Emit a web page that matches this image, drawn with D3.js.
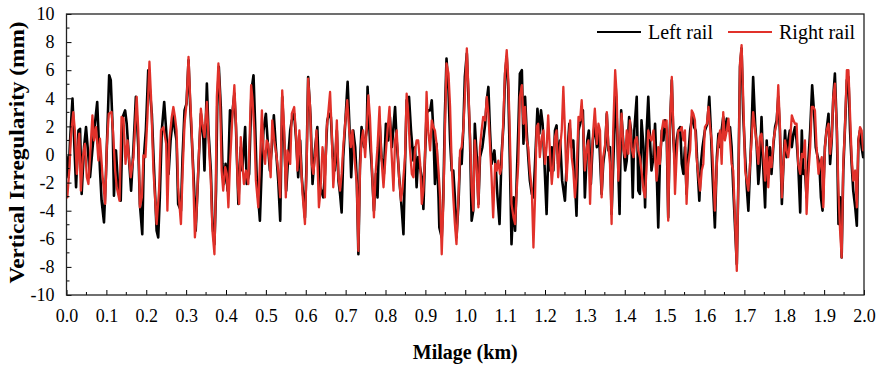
<!DOCTYPE html>
<html>
<head>
<meta charset="utf-8">
<script src="https://cdn.jsdelivr.net/npm/d3@7"></script>
<style>
  body { margin: 0; background: #fff; }
  text { font-family: "Liberation Serif", "Times New Roman", serif; fill: #000; }
</style>
</head>
<body>
<div id="chart"></div>
<script>
// Left rail (black): milage in km, irregularity in mm
const leftMilage = [
  0.000,0.005,0.009,0.015,0.024,0.030,0.034,0.038,0.044,0.049,0.055,0.059,0.067,0.077,0.084,0.088,0.094,0.099,0.107,0.111,
  0.116,0.119,0.124,0.130,0.136,0.141,0.147,0.151,0.157,0.162,0.168,0.174,0.180,0.184,0.190,0.194,0.199,0.205,0.214,0.219,
  0.226,0.230,0.234,0.239,0.245,0.250,0.256,0.261,0.268,
  0.272,0.276,0.280,0.287,0.291,0.296,0.301,0.306,0.310,0.314,0.320,0.324,0.327,0.332,0.337,0.343,0.346,0.352,0.356,0.362,
  0.366,0.371,0.375,0.378,0.382,0.387,0.391,0.395,0.399,0.404,0.410,0.414,0.421,0.425,0.431,0.437,0.441,0.448,0.452,0.458,
  0.464,0.469,0.473,0.477,0.485,0.490,0.494,0.500,0.505,0.510,0.515,0.520,0.525,0.531,0.536,0.541,0.546,0.551,0.556,
  0.561,0.565,0.571,0.576,0.581,0.586,0.590,0.594,0.598,0.602,0.606,0.612,0.617,0.623,0.629,0.634,0.644,0.648,0.654,0.659,
  0.663,0.668,0.673,0.678,0.682,0.686,0.690,0.694,0.700,0.705,0.709,0.714,0.719,0.724,0.728,0.732,0.736,0.740,0.746,0.753,
  0.755,0.761,0.765,0.771,0.776,0.780,0.785,0.790,0.796,0.801,0.807,0.811,0.816,0.824,0.828,0.835,0.841,0.845,0.849,
  0.853,0.859,0.864,0.870,0.874,0.878,0.882,0.891,0.895,0.899,0.903,0.907,0.912,0.916,0.920,0.924,0.928,0.933,0.935,0.941,
  0.945,0.949,0.953,0.958,0.962,0.966,0.970,0.974,0.978,0.983,0.987,0.991,0.995,0.999,1.004,1.008,1.012,1.016,1.020,1.024,
  1.029,1.033,1.037,1.043,1.050,1.054,1.058,1.062,1.066,1.073,1.077,1.081,1.086,1.091,1.096,1.100,1.104,1.108,1.112,1.116,
  1.121,1.125,1.129,1.133,
  1.137,1.142,1.146,1.150,1.154,1.158,1.162,1.167,1.171,1.175,1.181,1.186,1.190,1.194,1.198,1.204,1.208,1.213,1.217,1.221,
  1.225,1.229,1.233,1.238,1.243,1.250,1.254,1.261,1.267,1.271,1.275,1.279,1.284,1.288,1.295,1.300,1.306,1.310,1.315,1.320,
  1.325,1.330,1.335,1.342,1.346,1.351,1.355,1.359,1.363,1.367,1.374,1.377,1.381,1.387,1.391,1.397,1.401,1.405,1.411,1.416,
  1.420,1.424,1.430,1.434,
  1.438,1.442,1.447,1.451,1.455,1.459,1.463,1.467,1.472,1.476,1.480,1.484,1.488,1.493,1.497,1.501,1.505,1.509,1.513,1.518,
  1.522,1.526,1.530,1.534,1.539,1.543,1.547,1.551,1.555,1.559,1.564,1.570,1.574,1.578,1.582,1.587,1.591,1.595,1.601,1.607,
  1.612,1.616,1.620,1.626,1.631,1.635,1.639,1.643,1.647,1.651,1.656,1.660,1.664,1.668,1.672,1.677,1.681,1.685,1.689,1.693,
  1.697,1.702,1.706,1.710,
  1.718,1.722,1.727,1.731,1.735,1.739,1.743,1.748,1.752,1.756,1.760,1.764,1.768,1.773,1.777,1.781,1.785,1.789,1.794,1.798,
  1.802,1.806,1.810,1.814,1.819,1.823,1.827,1.831,1.835,1.840,1.844,1.848,1.852,1.856,1.860,1.865,1.870,1.875,1.879,1.884,
  1.888,1.892,1.896,1.902,1.906,1.911,1.915,1.919,1.923,1.927,1.932,1.936,1.940,1.944,1.948,1.952,1.957,1.961,1.965,1.969,
  1.973,1.978,1.982,1.986,1.990,1.994,1.998,2.000
];
const leftValues = [
  -0.1,-1.62,1.0,3.98,-2.33,1.71,1.83,-2.81,0.52,1.95,-0.19,-1.62,1.0,3.74,-1.14,-3.29,-4.83,-1.38,5.64,5.29,
  1.71,-2.93,0.29,-2.57,-3.29,2.67,3.14,2.19,-0.43,-2.57,0.52,4.1,0.52,-3.52,-5.67,-0.19,1.71,6.0,2.9,-0.67,
  -5.43,-5.9,-3.05,1.71,3.74,1.71,-1.38,1.0,2.9,
  1.71,1.0,-3.52,-4.0,-0.19,3.14,3.62,6.71,3.62,1.24,-2.33,-5.43,-3.52,-0.19,2.9,1.24,-1.14,5.05,1.71,-1.14,
  -4.95,-6.38,-2.57,3.38,6.24,3.38,-0.67,-2.1,-0.67,-2.57,3.14,2.43,4.33,1.95,-3.52,0.52,-1.14,1.95,-2.1,-1.38,
  4.57,5.64,2.19,-1.62,-4.71,-0.67,1.71,2.9,0.76,-1.14,0.52,2.79,0.52,-1.86,-4.71,4.1,1.0,-2.57,-0.19,
  1.71,2.43,2.9,1.0,-1.62,1.0,-1.62,-3.05,-4.48,-0.67,5.52,2.67,-2.1,0.29,1.95,-2.1,-3.05,-1.38,2.43,2.9,
  2.67,-0.19,-1.14,1.71,-1.86,-2.81,-4.12,-0.19,2.67,5.17,2.43,-1.62,1.71,0.52,-1.86,-7.1,-0.67,1.95,0.52,1.71,
  4.81,1.0,-0.67,-4.0,-1.38,-3.05,2.43,-0.19,-1.38,2.19,1.0,2.67,0.52,3.38,1.0,-1.86,-4.0,-5.67,-0.67,
  3.86,4.1,1.71,-0.43,0.52,-2.33,-0.19,-1.62,-3.88,-0.19,2.9,3.14,3.14,3.86,1.71,-2.1,0.76,-3.05,-5.2,-5.9,
  -3.05,2.9,6.83,4.57,1.0,-1.14,-1.14,-3.05,-5.9,-3.52,-0.19,-0.67,1.71,5.52,7.19,4.1,1.0,-4.71,-4.0,2.19,
  -0.19,-3.52,-0.19,0.52,2.19,3.86,4.81,1.71,-0.67,0.29,-1.14,-3.05,-4.95,-0.05,2.19,5.76,6.95,4.57,-0.67,-6.38,
  -3.05,-5.43,-1.86,1.71,
  5.76,6.0,0.76,4.1,1.71,-0.19,-1.86,-2.81,-3.05,-0.67,3.26,1.48,3.14,2.19,-0.19,-4.24,-0.19,-1.14,0.52,-1.14,
  1.71,2.07,-0.67,1.0,-1.86,-3.29,-0.9,2.19,0.52,1.0,-1.86,-4.36,1.71,2.19,3.14,-3.05,1.0,1.71,-2.1,1.0,
  2.19,0.52,1.71,-2.81,-0.67,0.52,2.9,0.29,0.52,-4.24,1.71,5.05,1.71,-4.24,3.14,0.52,-1.14,-0.43,2.67,1.71,
  -3.05,1.71,4.1,-2.57,
  -2.81,2.43,0.52,-3.76,1.71,4.1,1.24,-1.14,-0.19,2.19,-1.14,-5.19,-0.67,1.71,1.0,2.43,1.71,-4.48,1.71,5.29,
  1.0,-0.67,1.0,1.71,1.95,-0.67,-1.38,0.52,-2.81,-0.19,1.71,2.9,1.95,1.71,-0.67,-3.29,-0.67,0.52,1.71,2.19,
  4.1,1.71,-1.38,-5.19,-0.19,1.48,0.52,1.71,2.67,1.71,2.55,1.71,1.95,0.52,-2.33,-5.43,-7.81,-1.86,6.24,7.55,
  2.9,-0.19,-2.33,-4.0,
  1.71,5.52,2.19,0.52,-2.1,-0.67,2.67,-1.38,-3.76,1.0,-1.62,0.52,-1.38,0.76,1.95,2.43,4.1,1.71,-3.52,-0.67,
  1.71,-0.19,1.0,1.71,0.52,1.48,1.95,1.0,-0.67,-4.12,1.71,-1.38,-1.14,-3.05,-0.67,1.71,4.93,2.9,0.52,-0.19,
  -0.67,-3.05,-4.0,0.52,1.71,2.9,-0.67,1.0,4.1,5.76,1.71,-4.95,-3.05,-7.33,-1.14,1.71,5.29,5.52,1.71,-0.67,
  -2.57,-3.76,-5.07,1.0,1.71,0.52,-0.19,0.3
];

// Right rail (red)
const rightMilage = [
  0.000,0.002,0.007,0.011,0.017,0.021,0.026,0.030,0.032,0.036,0.041,0.046,0.051,0.055,0.059,0.065,0.069,0.074,0.080,0.084,
  0.090,0.097,0.101,0.106,0.113,0.117,0.122,0.126,0.133,0.138,0.143,0.148,0.153,0.161,0.168,0.176,0.180,0.184,0.189,0.193,
  0.198,0.203,0.208,0.212,0.218,0.226,0.232,0.237,0.243,0.250,0.253,0.258,0.264,0.268,
  0.272,0.276,0.280,0.287,0.291,0.296,0.301,0.306,0.310,0.314,0.318,0.322,0.326,0.331,0.337,0.341,0.346,0.352,0.356,0.362,
  0.366,0.371,0.374,0.377,0.381,0.385,0.389,0.393,0.398,0.402,0.406,0.410,0.416,0.421,0.425,0.429,0.433,0.437,0.441,0.445,
  0.450,0.456,0.463,0.466,0.471,0.475,0.481,0.485,0.490,0.494,0.498,0.502,0.506,0.512,0.516,0.521,0.527,0.531,0.536,0.541,
  0.546,0.550,0.554,0.561,
  0.565,0.571,0.576,0.579,0.584,0.588,0.592,0.598,0.602,0.606,0.611,0.615,0.619,0.623,0.627,0.633,0.637,0.642,0.646,0.648,
  0.652,0.657,0.661,0.665,0.669,0.673,0.678,0.682,0.686,0.690,0.694,0.698,0.704,0.709,0.713,0.717,0.722,0.728,0.732,0.736,
  0.740,0.744,0.749,0.753,0.757,0.761,0.765,0.771,0.775,0.780,0.785,0.789,0.795,0.800,0.805,0.810,0.814,0.820,0.824,0.828,
  0.834,0.839,0.843,0.849,
  0.853,0.857,0.861,0.866,0.870,0.874,0.878,0.882,0.887,0.891,0.895,0.899,0.903,0.907,0.912,0.916,0.920,0.924,0.928,0.933,
  0.937,0.941,0.945,0.949,0.953,0.958,0.962,0.966,0.970,0.974,0.978,0.983,0.987,0.991,0.995,0.999,1.004,1.008,1.012,1.016,
  1.020,1.024,1.029,1.033,1.037,1.041,1.045,1.050,1.054,1.058,1.062,1.066,1.070,1.075,1.079,1.083,1.087,1.091,1.096,1.100,
  1.104,1.108,1.112,1.116,1.121,1.125,1.129,1.133,
  1.137,1.142,1.146,1.150,1.154,1.158,1.162,1.167,1.171,1.175,1.179,1.183,1.187,1.192,1.196,1.200,1.204,1.208,1.213,1.217,
  1.221,1.225,1.229,1.233,1.238,1.242,1.246,1.250,1.254,1.259,1.263,1.267,1.271,1.275,1.279,1.284,1.288,1.292,1.296,1.300,
  1.305,1.309,1.313,1.317,1.321,1.325,1.330,1.334,1.338,1.342,1.346,1.351,1.355,1.359,1.363,1.367,1.371,1.376,1.380,1.384,
  1.388,1.392,1.397,1.401,1.405,1.409,1.413,1.417,1.422,1.426,1.430,1.434,
  1.438,1.442,1.447,1.451,1.455,1.459,1.463,1.467,1.472,1.476,1.480,1.484,1.488,1.493,1.497,1.501,1.505,1.509,1.513,1.518,
  1.522,1.526,1.530,1.534,1.539,1.543,1.547,1.551,1.555,1.559,1.564,1.568,1.572,1.576,1.580,1.585,1.589,1.593,1.597,1.601,
  1.606,1.610,1.614,1.618,1.622,1.626,1.631,1.635,1.639,1.643,1.647,1.651,1.656,1.660,1.664,1.668,1.672,1.677,1.681,1.685,
  1.689,1.693,1.697,1.702,1.706,1.710,
  1.718,1.722,1.727,1.731,1.735,1.739,1.743,1.748,1.752,1.756,1.760,1.764,1.768,1.773,1.777,1.781,1.785,1.789,1.794,1.798,
  1.802,1.806,1.810,1.814,1.819,1.823,1.827,1.831,1.835,1.840,1.844,1.848,1.852,1.856,1.860,1.865,1.869,1.873,1.877,1.881,
  1.886,1.890,1.894,1.898,1.902,1.906,1.911,1.915,1.919,1.923,1.927,1.932,1.936,1.940,1.944,1.948,1.952,1.957,1.961,1.965,
  1.969,1.973,1.978,1.982,1.986,1.990,1.994,1.998,2.000
];
const rightValues = [
  -2.57,-3.05,-1.14,1.24,3.02,1.71,-1.38,1.0,1.48,-2.57,-0.19,0.76,-1.62,-2.1,-0.19,2.79,1.0,1.95,-0.43,1.12,
  -1.38,-3.52,0.52,2.9,3.02,1.48,-1.14,-2.33,-3.29,2.67,2.55,-0.67,1.0,-1.62,-0.19,4.1,1.71,-3.76,-3.05,-0.07,
  -0.19,2.67,6.6,4.1,-1.14,-4.95,-2.57,1.71,1.95,0.76,-4.0,1.0,2.67,3.38,
  2.67,1.71,-2.33,-4.95,-1.38,2.19,3.62,6.95,4.1,1.71,-1.86,-5.9,-4.24,-0.67,3.26,2.19,1.24,3.74,1.24,-1.86,
  -5.43,-7.1,-3.05,4.1,6.48,4.1,-1.14,-2.57,-0.9,-1.38,-3.76,-0.67,2.67,4.93,2.19,-1.86,-3.52,1.24,-0.67,-2.1,
  -1.14,-2.1,4.93,4.1,1.71,-1.86,-3.76,-0.67,3.14,0.29,-0.67,1.0,0.76,-1.62,2.43,1.0,-0.19,-1.14,-3.05,4.57,
  1.71,-3.05,0.29,-0.67,
  2.9,3.38,1.24,-1.14,1.71,-0.67,-2.81,-4.95,-1.14,5.4,3.38,-0.67,-1.38,-0.19,1.71,-3.76,-2.57,0.52,-0.43,-3.05,
  1.71,3.14,4.45,1.71,-2.33,-0.67,2.43,-1.62,-2.57,-1.38,0.52,1.95,3.86,1.71,0.52,1.71,-0.19,-2.1,-6.86,-1.14,
  1.0,1.71,-0.19,1.95,4.2,2.67,-0.19,-4.48,-1.38,0.52,3.38,0.05,-2.33,-0.19,1.71,3.38,0.76,-2.57,1.0,1.71,
  -1.62,-3.29,-2.33,-0.19,
  4.33,2.9,0.52,-1.38,-1.62,0.29,1.0,1.0,-0.67,-3.52,-2.57,-0.19,4.45,1.71,0.29,2.43,1.95,1.71,0.76,-1.14,
  -3.05,-7.1,-3.52,1.71,6.48,5.76,3.38,-0.67,-3.05,-4.95,-6.38,-3.05,0.29,0.52,1.71,4.1,7.55,4.57,1.24,-2.33,
  -4.0,1.0,-1.14,-3.76,0.52,1.71,2.67,2.43,4.1,2.9,0.76,-1.62,-4.48,-0.67,-1.14,-0.43,-1.38,-0.9,2.9,6.0,
  7.43,5.29,1.24,-3.52,-4.48,-4.95,-2.57,-0.67,
  4.1,4.93,2.19,3.38,1.0,0.52,-1.14,-2.57,-6.62,-3.05,1.95,2.19,-0.19,1.24,1.71,-0.67,0.52,2.79,-0.19,-2.1,
  -0.67,1.24,1.71,-1.62,0.52,1.71,4.81,1.71,-1.86,0.76,2.43,-0.19,-1.14,-3.05,-1.62,2.67,2.43,3.86,1.71,-1.14,
  0.52,1.0,-3.52,-0.19,1.71,3.26,0.76,2.19,1.71,-3.05,-0.19,0.76,3.02,0.52,-0.67,-4.95,1.71,6.0,4.1,-1.86,
  0.52,2.9,0.29,-0.19,1.71,0.05,2.43,0.52,-0.19,1.0,1.24,0.29,
  -0.19,-1.14,-2.57,-3.05,-0.67,1.71,1.24,1.0,1.71,-0.19,-1.86,0.52,-0.67,1.71,2.43,1.95,2.43,-4.71,1.71,5.52,
  1.71,-2.81,-0.19,1.71,1.71,1.95,1.0,1.71,-3.52,-0.67,0.29,3.14,2.9,2.43,-0.19,-1.62,-2.57,-1.14,-0.67,1.95,
  2.19,3.38,1.95,1.0,-1.14,-4.0,-0.67,1.0,1.71,-0.67,3.02,1.0,1.71,2.55,1.0,-0.67,-1.14,-4.95,-8.29,-1.86,
  6.48,7.79,4.1,-1.14,-1.86,-2.57,
  1.0,3.02,1.71,0.76,-0.67,1.24,1.48,-0.19,-1.86,0.52,-2.33,-0.19,-0.9,1.0,1.71,2.19,4.93,2.19,-3.05,-0.67,
  1.0,0.29,-0.19,0.76,2.79,2.43,2.19,2.19,-0.67,-1.38,0.05,-0.19,1.0,-4.24,-1.62,0.52,3.38,3.38,3.14,0.52,
  -1.38,-0.67,-0.19,-3.76,0.52,1.71,2.19,0.05,1.24,4.1,5.05,1.71,-2.57,-5.43,-7.33,-0.67,1.71,6.0,6.0,2.9,
  -0.19,-1.86,-1.14,-3.76,1.0,1.95,1.71,0.29,0.5
];

const xTicks = [0.0,0.1,0.2,0.3,0.4,0.5,0.6,0.7,0.8,0.9,1.0,1.1,1.2,1.3,1.4,1.5,1.6,1.7,1.8,1.9,2.0];
const xMinorTicks = [0.05,0.15,0.25,0.35,0.45,0.55,0.65,0.75,0.85,0.95,1.05,1.15,1.25,1.35,1.45,1.55,1.65,1.75,1.85,1.95];
const yTicks = [-10,-8,-6,-4,-2,0,2,4,6,8,10];
const yMinorTicks = [-9,-7,-5,-3,-1,1,3,5,7,9];
const seriesNames = ["Left rail", "Right rail"];
const seriesColors = ["#000000", "#e1312a"];

const W = 879, H = 367;
const margin = {top: 14, right: 15, bottom: 72, left: 66.5};
const width = W - margin.left - margin.right,
  height = H - margin.top - margin.bottom;

const svg = d3.select("#chart").append("svg")
  .attr("width", W)
  .attr("height", H);

const g = svg.append("g")
  .attr("transform", "translate(" + margin.left + "," + margin.top + ")");

const x = d3.scaleLinear().domain([0, 2]).range([0, width]);
const y = d3.scaleLinear().domain([-10, 10]).range([height, 0]);

const line = d3.line()
  .x(function (d) { return x(d[0]); })
  .y(function (d) { return y(d[1]); });

const left = leftMilage.map((m, i) => [m, leftValues[i]]);
const right = rightMilage.map((m, i) => [m, rightValues[i]]);

g.append("defs").append("clipPath").attr("id", "clip")
  .append("rect").attr("width", width).attr("height", height);

const plot = g.append("g").attr("clip-path", "url(#clip)");

plot.append("path")
  .datum(left)
  .attr("fill", "none")
  .attr("stroke", seriesColors[0])
  .attr("stroke-width", 2.6)
  .attr("stroke-linejoin", "round")
  .attr("d", line);

plot.append("path")
  .datum(right)
  .attr("fill", "none")
  .attr("stroke", seriesColors[1])
  .attr("stroke-width", 2.3)
  .attr("stroke-linejoin", "round")
  .attr("d", line);

// axes: ticks point inward, labels use a plain hyphen like the original
const xAxis = g.append("g")
  .attr("transform", "translate(0," + height + ")")
  .call(d3.axisBottom(x).tickValues(xTicks).tickSizeInner(-5).tickSizeOuter(0).tickPadding(14)
    .tickFormat(d => d.toFixed(1)));
xAxis.append("g").selectAll("line").data(xMinorTicks).join("line")
  .attr("x1", d => x(d)).attr("x2", d => x(d)).attr("y1", 0).attr("y2", -3)
  .attr("stroke", "#000");

const yAxis = g.append("g")
  .call(d3.axisLeft(y).tickValues(yTicks).tickSizeInner(-5).tickSizeOuter(0).tickPadding(12)
    .tickFormat(d => String(d)));
yAxis.append("g").selectAll("line").data(yMinorTicks).join("line")
  .attr("x1", 0).attr("x2", 3).attr("y1", d => y(d)).attr("y2", d => y(d))
  .attr("stroke", "#000");

g.selectAll(".tick text")
  .style("font-family", '"Liberation Serif", "Times New Roman", serif')
  .style("font-size", "18px");
g.selectAll(".domain").remove();

// frame
g.append("rect")
  .attr("width", width).attr("height", height)
  .attr("fill", "none")
  .attr("stroke", "#222")
  .attr("stroke-width", 1.3);

// axis titles
svg.append("text")
  .attr("transform", "translate(24," + (margin.top + height / 2 - 2) + ") rotate(-90)")
  .attr("text-anchor", "middle")
  .attr("textLength", 262)
  .attr("lengthAdjust", "spacingAndGlyphs")
  .style("font-size", "20px")
  .style("font-weight", "bold")
  .text("Vertical Irregularity (mm)");

svg.append("text")
  .attr("x", margin.left + width / 2)
  .attr("y", 359)
  .attr("text-anchor", "middle")
  .style("font-size", "20px")
  .style("font-weight", "bold")
  .text("Milage (km)");

// legend
const legendX = [597, 728];
seriesNames.forEach(function (name, i) {
  svg.append("line")
    .attr("x1", legendX[i]).attr("x2", legendX[i] + 44)
    .attr("y1", 32).attr("y2", 32)
    .attr("stroke", seriesColors[i])
    .attr("stroke-width", 2.2);
  svg.append("text")
    .attr("x", legendX[i] + 51)
    .attr("y", 39)
    .style("font-size", "20px")
    .text(name);
});
</script>
</body>
</html>
